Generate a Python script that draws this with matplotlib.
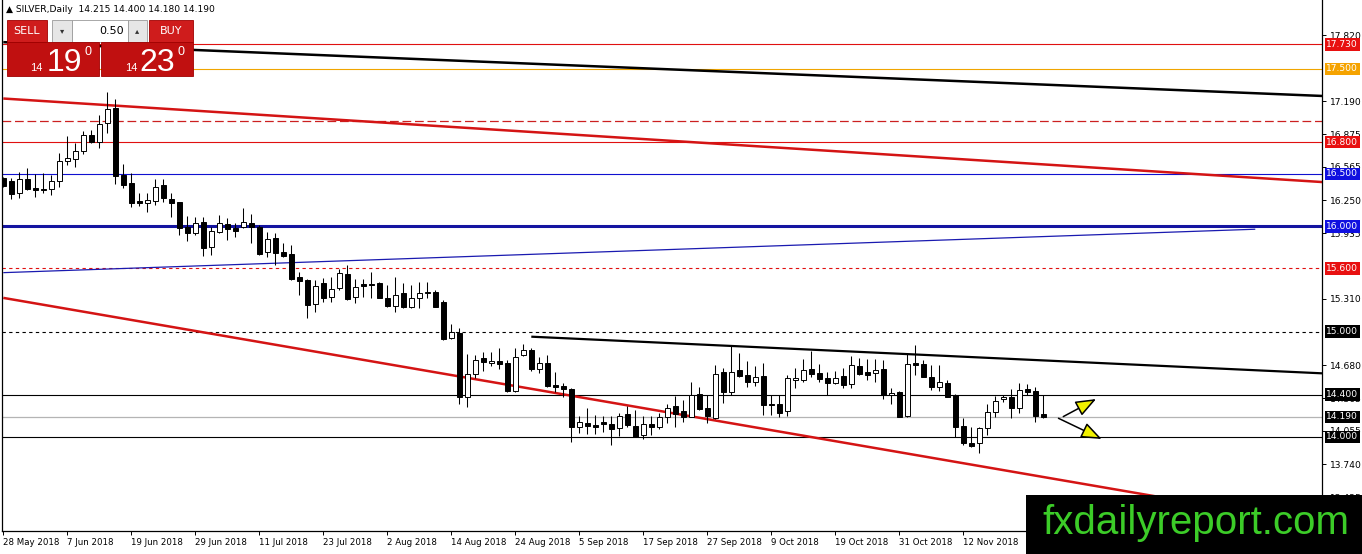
import matplotlib
matplotlib.use('Agg')
import matplotlib.pyplot as plt
from matplotlib.patches import Rectangle

# daily candles, 28 May 2018 .. 26 Nov 2018
opens = [16.457, 16.431, 16.314, 16.450, 16.365, 16.355, 16.352, 16.428, 16.625, 16.644,
         16.720, 16.869, 16.805, 16.980, 17.122, 16.488, 16.409, 16.238, 16.219, 16.244,
         16.393, 16.260, 16.228, 15.997, 15.940, 16.044, 15.801, 15.950, 16.022, 15.988,
         15.997, 16.035, 15.997, 15.753, 15.886, 15.753, 15.737, 15.516, 15.490, 15.259,
         15.465, 15.332, 15.411, 15.547, 15.325, 15.449, 15.455, 15.465, 15.316, 15.243,
         15.370, 15.236, 15.316, 15.364, 15.379, 15.284, 14.935, 14.989, 14.381, 14.593,
         14.745, 14.697, 14.720, 14.697, 14.434, 14.777, 14.827, 14.640, 14.697, 14.491,
         14.479, 14.450, 14.095, 14.127, 14.111, 14.137, 14.118, 14.080, 14.213, 14.105,
         14.016, 14.118, 14.095, 14.190, 14.292, 14.244, 14.190, 14.406, 14.270, 14.181,
         14.612, 14.428, 14.634, 14.587, 14.523, 14.577, 14.311, 14.311, 14.244, 14.539,
         14.539, 14.640, 14.608, 14.555, 14.508, 14.577, 14.498, 14.672, 14.618, 14.608,
         14.640, 14.396, 14.428, 14.197, 14.697, 14.691, 14.571, 14.476, 14.514, 14.393,
         14.102, 13.937, 13.937, 14.079, 14.238, 14.355, 14.374, 14.270, 14.453, 14.437,
         14.215]
highs = [16.473, 16.463, 16.514, 16.552, 16.498, 16.505, 16.488, 16.694, 16.859, 16.789,
         16.910, 16.916, 17.059, 17.275, 17.211, 16.590, 16.504, 16.314, 16.314, 16.447,
         16.450, 16.314, 16.234, 16.098, 16.092, 16.092, 15.997, 16.108, 16.076, 16.029,
         16.171, 16.117, 16.013, 15.950, 15.940, 15.839, 15.823, 15.569, 15.497, 15.490,
         15.506, 15.522, 15.592, 15.633, 15.497, 15.497, 15.563, 15.474, 15.443, 15.522,
         15.459, 15.443, 15.468, 15.474, 15.395, 15.300, 15.076, 15.031, 14.790, 14.777,
         14.802, 14.802, 14.840, 14.729, 14.840, 14.878, 14.840, 14.758, 14.777, 14.618,
         14.514, 14.460, 14.193, 14.269, 14.206, 14.200, 14.193, 14.228, 14.291, 14.250,
         14.193, 14.193, 14.228, 14.311, 14.387, 14.349, 14.523, 14.476, 14.396, 14.682,
         14.650, 14.872, 14.793, 14.723, 14.672, 14.700, 14.396, 14.396, 14.587, 14.650,
         14.735, 14.812, 14.695, 14.618, 14.628, 14.650, 14.767, 14.745, 14.735, 14.735,
         14.729, 14.460, 14.434, 14.793, 14.872, 14.729, 14.682, 14.682, 14.539, 14.406,
         14.175, 14.089, 14.095, 14.311, 14.387, 14.396, 14.450, 14.514, 14.501, 14.476,
         14.400]
lows = [16.371, 16.257, 16.267, 16.346, 16.283, 16.314, 16.299, 16.377, 16.584, 16.568,
        16.688, 16.789, 16.742, 16.885, 16.403, 16.362, 16.187, 16.193, 16.140, 16.203,
        16.235, 16.092, 15.918, 15.864, 15.918, 15.721, 15.728, 15.934, 15.870, 15.896,
        15.981, 15.839, 15.728, 15.712, 15.633, 15.712, 15.490, 15.347, 15.126, 15.189,
        15.284, 15.278, 15.395, 15.300, 15.271, 15.332, 15.316, 15.316, 15.236, 15.189,
        15.227, 15.227, 15.221, 15.316, 15.236, 14.920, 14.929, 14.311, 14.280, 14.555,
        14.624, 14.672, 14.640, 14.428, 14.428, 14.767, 14.627, 14.605, 14.475, 14.425,
        14.380, 13.952, 14.035, 14.029, 14.029, 14.044, 13.920, 14.010, 14.095, 13.994,
        13.978, 14.016, 14.070, 14.127, 14.095, 14.143, 14.187, 14.254, 14.127, 14.168,
        14.320, 14.396, 14.571, 14.476, 14.482, 14.206, 14.206, 14.187, 14.200, 14.466,
        14.523, 14.571, 14.520, 14.396, 14.501, 14.466, 14.460, 14.587, 14.539, 14.520,
        14.358, 14.311, 14.184, 14.190, 14.587, 14.565, 14.444, 14.434, 14.374, 13.997,
        13.924, 13.905, 13.841, 14.016, 14.190, 14.330, 14.181, 14.228, 14.396, 14.137,
        14.180]
closes = [16.384, 16.305, 16.447, 16.352, 16.343, 16.350, 16.428, 16.618, 16.650, 16.714,
          16.869, 16.802, 16.970, 17.116, 16.482, 16.397, 16.225, 16.225, 16.251, 16.377,
          16.267, 16.219, 15.981, 15.934, 16.029, 15.791, 15.959, 16.029, 15.978, 15.959,
          16.044, 15.991, 15.737, 15.877, 15.744, 15.721, 15.499, 15.484, 15.252, 15.433,
          15.322, 15.402, 15.554, 15.309, 15.420, 15.433, 15.443, 15.322, 15.246, 15.347,
          15.236, 15.316, 15.370, 15.376, 15.236, 14.926, 14.993, 14.375, 14.593, 14.729,
          14.713, 14.720, 14.688, 14.434, 14.755, 14.827, 14.640, 14.697, 14.485, 14.469,
          14.450, 14.095, 14.137, 14.105, 14.095, 14.118, 14.070, 14.200, 14.111, 14.000,
          14.121, 14.089, 14.184, 14.276, 14.216, 14.190, 14.396, 14.263, 14.197, 14.593,
          14.422, 14.618, 14.577, 14.523, 14.571, 14.301, 14.301, 14.228, 14.555, 14.555,
          14.634, 14.596, 14.546, 14.514, 14.555, 14.491, 14.682, 14.596, 14.587, 14.634,
          14.396, 14.418, 14.190, 14.691, 14.682, 14.571, 14.476, 14.523, 14.380, 14.095,
          13.943, 13.911, 14.079, 14.238, 14.339, 14.374, 14.270, 14.444, 14.428, 14.200,
          14.190]

date_labels = ['28 May 2018', '7 Jun 2018', '19 Jun 2018', '29 Jun 2018', '11 Jul 2018',
               '23 Jul 2018', '2 Aug 2018', '14 Aug 2018', '24 Aug 2018', '5 Sep 2018',
               '17 Sep 2018', '27 Sep 2018', '9 Oct 2018', '19 Oct 2018', '31 Oct 2018',
               '12 Nov 2018']
price_ticks = [17.820, 17.190, 16.875, 16.565, 16.250, 15.935, 15.310, 14.680,
               14.365, 14.055, 13.740, 13.425]

# horizontal levels
levels = [17.730, 17.500, 17.000, 16.800, 16.500, 16.000, 15.600, 15.000, 14.400, 14.190, 14.000]
level_colors = ['#e01010', '#f0a500', '#cc2020', '#e01010', '#1010d0', '#1414a0',
                '#e01010', 'black', 'black', '#b4b4b4', 'black']
level_styles = ['-', '-', (0, (7, 3)), '-', '-', '-', (0, (3, 3)), (0, (3, 3)), '-', '-', '-']
level_widths = [0.8, 0.8, 0.9, 0.8, 0.8, 2.2, 0.8, 0.8, 0.8, 0.9, 0.8]
label_levels = [17.730, 17.500, 16.800, 16.500, 16.000, 15.600, 15.000, 14.400, 14.190, 14.000]
label_colors = ['#e81010', '#f5a300', '#e81010', '#1010e0', '#1010e0', '#e81010',
                'black', 'black', 'black', 'black']

# trend lines (bar index, price)
trend_x = [[0, 165], [0, 165], [0, 156.5], [0, 165], [66, 165]]
trend_y = [[17.752, 17.240], [17.216, 16.421], [15.560, 15.973], [15.320, 13.158], [14.951, 14.602]]
trend_colors = ['black', '#d41414', '#1a1ab0', '#d41414', 'black']
trend_widths = [1.8, 1.8, 0.9, 1.8, 1.6]

# yellow arrows: (start bar, start price) -> (end bar, end price)
arrows = [((132.5, 14.191), (136.6, 14.358)), ((131.9, 14.175), (137.3, 13.978))]

fig = plt.figure(figsize=(13.62, 5.54), dpi=100)
ax = fig.add_axes([2 / 1362, 23 / 554, 1320 / 1362, 531 / 554])
ax.set_xlim(-0.1625, 164.84)
ax.set_ylim(13.103, 18.153)

for lv, c, ls, lw in zip(levels, level_colors, level_styles, level_widths):
    ax.axhline(lv, color=c, linestyle=ls, linewidth=lw, zorder=1)

for xs, ys, c, lw in zip(trend_x, trend_y, trend_colors, trend_widths):
    ax.plot(xs, ys, color=c, linewidth=lw, zorder=2, solid_capstyle='butt')

idx = list(range(len(opens)))
ax.vlines(idx, lows, highs, color='black', linewidth=0.75, zorder=3)
bottoms = [min(o, c) for o, c in zip(opens, closes)]
heights = [abs(c - o) for o, c in zip(opens, closes)]
fills = ['white' if c >= o else 'black' for o, c in zip(opens, closes)]
ax.bar(idx, heights, bottom=bottoms, width=0.6, color=fills, edgecolor='black',
       linewidth=0.7, zorder=4)

for (x0, y0), (x1, y1) in arrows:
    ax.annotate('', xy=(x1, y1), xytext=(x0, y0),
                arrowprops=dict(arrowstyle='-|>,head_length=0.9,head_width=0.35',
                                mutation_scale=14, fc='#f0f000', ec='black', lw=1.1,
                                shrinkA=0, shrinkB=0),
                zorder=6)

ax.set_xticks([i * 8 for i in range(len(date_labels))])
ax.set_xticklabels(date_labels, ha='left', fontsize=6.2)
ax.yaxis.tick_right()
ax.set_yticks(price_ticks)
ax.set_yticklabels(['%.3f' % p for p in price_ticks], fontsize=6.6)
ax.tick_params(axis='x', length=3, pad=2, width=0.7)
ax.tick_params(axis='y', length=3, pad=3, width=0.7)
ax.spines['top'].set_visible(False)
for s in ['left', 'right', 'bottom']:
    ax.spines[s].set_linewidth(0.9)

for lv, c in zip(label_levels, label_colors):
    ax.annotate('%.3f' % lv, xy=(1, lv), xycoords=ax.get_yaxis_transform(),
                xytext=(3.2, 0), textcoords='offset points', va='center', ha='left',
                fontsize=6.6, color='white', annotation_clip=False, zorder=10,
                bbox=dict(boxstyle='square,pad=0.18', fc=c, ec='none'))

# overlay in pixel coordinates: trade panel, title, watermark
ov = fig.add_axes([0, 0, 1, 1], zorder=5)
ov.set_xlim(0, 1362)
ov.set_ylim(554, 0)
ov.axis('off')
ov.patch.set_alpha(0)

ov.text(6, 10, '\u25b2 SILVER,Daily  14.215 14.400 14.180 14.190', fontsize=6.6,
        va='center', ha='left', color='black')

red = '#cf1c1c'
dark_red = '#c01010'
ov.add_patch(Rectangle((6.7, 20), 40, 21.7, fc=red, ec='#a00000', lw=0.6))
ov.text(26.7, 31, 'SELL', color='white', fontsize=8, ha='center', va='center')
ov.add_patch(Rectangle((51.7, 20), 20, 21.7, fc='#e6e6e6', ec='#9a9a9a', lw=0.6))
ov.text(61.7, 31, '\u25be', color='#333333', fontsize=6, ha='center', va='center')
ov.add_patch(Rectangle((71.7, 20), 56.6, 21.7, fc='white', ec='#9a9a9a', lw=0.6))
ov.text(124, 31, '0.50', color='black', fontsize=8, ha='right', va='center')
ov.add_patch(Rectangle((128.3, 20), 18.4, 21.7, fc='#e6e6e6', ec='#9a9a9a', lw=0.6))
ov.text(137.5, 31, '\u25b4', color='#333333', fontsize=6, ha='center', va='center')
ov.add_patch(Rectangle((149.3, 20), 43.4, 21.7, fc=red, ec='#a00000', lw=0.6))
ov.text(171, 31, 'BUY', color='white', fontsize=8, ha='center', va='center')

ov.add_patch(Rectangle((6.7, 41.7), 92.3, 34.3, fc=dark_red, ec='#a00000', lw=0.6))
ov.add_patch(Rectangle((101, 41.7), 91.7, 34.3, fc=dark_red, ec='#a00000', lw=0.6))
sans = ['Liberation Sans', 'DejaVu Sans']
ov.text(36.5, 70.7, '14', color='white', fontsize=8, ha='center', va='baseline', family=sans)
ov.text(64.5, 70.7, '19', color='white', fontsize=23, ha='center', va='baseline', family=sans)
ov.text(88, 55, '0', color='white', fontsize=9, ha='center', va='baseline', family=sans)
ov.text(131, 70.7, '14', color='white', fontsize=8, ha='center', va='baseline', family=sans)
ov.text(157.5, 70.7, '23', color='white', fontsize=23, ha='center', va='baseline', family=sans)
ov.text(181.5, 55, '0', color='white', fontsize=9, ha='center', va='baseline', family=sans)

ov.add_patch(Rectangle((1026, 495), 336, 59, fc='black', ec='none'))
ov.text(1042, 534, 'fxdailyreport.com', color='#3ccc28', fontsize=29, ha='left',
        va='baseline', family=sans)

fig.savefig('out.png', dpi=100, facecolor='white')
